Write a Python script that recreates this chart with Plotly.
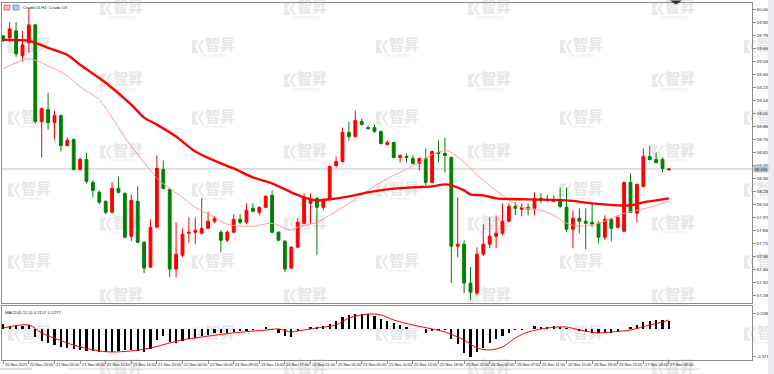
import plotly.graph_objects as go

# ---------------- data ----------------
bars = list(range(105))

opens = [59.79, 59.77, 59.84, 59.59, 59.72, 59.90, 58.93, 59.05, 58.92, 58.99,
         58.69, 58.75, 58.45, 58.55, 58.32, 58.22, 58.13, 58.02, 58.26, 58.21,
         57.78, 58.13, 57.72, 57.47, 57.87, 58.45, 58.25, 57.45, 57.59, 57.81,
         57.82, 57.81, 57.86, 57.93, 57.82, 57.74, 57.82, 57.95, 57.92, 58.06,
         58.02, 58.07, 58.19, 57.82, 57.73, 57.46, 57.67, 57.91, 58.11, 58.16,
         58.07, 58.15, 58.49, 58.53, 58.82, 58.78, 58.93, 58.87, 58.87, 58.83,
         58.70, 58.72, 58.57, 58.58, 58.56, 58.51, 58.56, 58.32, 58.62, 58.61,
         58.57, 57.68, 57.70, 57.31, 57.21, 57.60, 57.70, 57.78, 57.81, 57.93,
         58.08, 58.05, 58.07, 58.06, 58.16, 58.15, 58.15, 58.13, 58.07, 57.85,
         57.96, 57.93, 57.92, 57.91, 57.77, 57.95, 57.87, 57.83, 58.32, 58.01,
         58.28, 58.58, 58.55, 58.55, 58.445]
highs = [59.80, 59.93, 59.93, 59.84, 60.07, 59.91, 59.07, 59.22, 59.04, 59.00,
         58.77, 58.76, 58.57, 58.62, 58.34, 58.24, 58.14, 58.32, 58.38, 58.22,
         58.20, 58.28, 57.73, 57.95, 58.59, 58.54, 58.26, 57.92, 57.86, 57.97,
         57.97, 58.16, 58.03, 57.98, 57.84, 57.84, 58.00, 58.00, 58.11, 58.11,
         58.08, 58.19, 58.24, 57.83, 57.74, 57.68, 57.96, 58.21, 58.21, 58.17,
         58.16, 58.49, 58.58, 58.87, 58.93, 59.04, 58.96, 58.89, 58.90, 58.84,
         58.74, 58.73, 58.60, 58.61, 58.59, 58.57, 58.66, 58.64, 58.74, 58.77,
         58.58, 58.17, 57.74, 57.47, 57.67, 57.90, 57.97, 57.99, 58.11, 58.11,
         58.12, 58.11, 58.11, 58.22, 58.21, 58.19, 58.19, 58.27, 58.27, 58.04,
         58.06, 58.06, 58.11, 57.93, 57.99, 57.96, 57.99, 58.33, 58.41, 58.31,
         58.66, 58.69, 58.62, 58.57, 58.46]
lows = [59.73, 59.73, 59.58, 59.53, 59.62, 58.91, 58.57, 58.85, 58.75, 58.63,
        58.68, 58.44, 58.44, 58.31, 58.17, 58.10, 58.00, 58.01, 58.21, 57.76,
        57.73, 57.71, 57.41, 57.46, 57.86, 58.25, 57.37, 57.37, 57.57, 57.71,
        57.70, 57.80, 57.85, 57.91, 57.62, 57.72, 57.81, 57.90, 57.90, 58.02,
        57.99, 58.06, 57.81, 57.73, 57.42, 57.45, 57.66, 57.90, 57.91, 57.59,
        58.04, 58.14, 58.47, 58.52, 58.74, 58.77, 58.89, 58.85, 58.82, 58.70,
        58.69, 58.56, 58.52, 58.52, 58.50, 58.44, 58.29, 58.31, 58.52, 58.42,
        57.31, 57.57, 57.21, 57.14, 57.19, 57.58, 57.66, 57.66, 57.79, 57.92,
        57.99, 57.98, 57.99, 57.99, 58.11, 58.12, 58.12, 58.06, 57.82, 57.66,
        57.81, 57.65, 57.87, 57.71, 57.74, 57.73, 57.86, 57.82, 58.01, 57.92,
        58.27, 58.54, 58.51, 58.42, 58.44]
closes = [59.74, 59.86, 59.61, 59.70, 59.90, 58.93, 59.06, 58.92, 58.99, 58.69,
          58.74, 58.45, 58.55, 58.33, 58.24, 58.12, 58.02, 58.26, 58.22, 57.77,
          58.14, 57.72, 57.46, 57.87, 58.46, 58.26, 57.45, 57.60, 57.80, 57.82,
          57.84, 57.86, 57.93, 57.96, 57.74, 57.82, 57.95, 57.92, 58.04, 58.03,
          58.07, 58.18, 57.82, 57.74, 57.45, 57.67, 57.92, 58.16, 58.14, 58.07,
          58.14, 58.48, 58.53, 58.82, 58.78, 58.94, 58.90, 58.86, 58.83, 58.71,
          58.72, 58.57, 58.59, 58.57, 58.51, 58.56, 58.32, 58.63, 58.61, 58.59,
          57.68, 57.70, 57.31, 57.22, 57.60, 57.70, 57.78, 57.81, 57.93, 58.08,
          58.06, 58.07, 58.05, 58.16, 58.14, 58.14, 58.13, 58.08, 57.85, 57.96,
          57.93, 57.91, 57.90, 57.77, 57.95, 57.86, 57.97, 58.32, 58.02, 58.30,
          58.58, 58.55, 58.52, 58.46, 58.455]

# slow moving average (thick red) - read at selected bars
slow_idx = [0, 4, 7, 10, 12, 16, 20, 22, 24, 27, 30, 34, 36, 39, 42, 45, 47, 49, 51, 54,
            57, 60, 64, 67, 69, 70, 72, 73, 75, 77, 82, 88, 92, 96, 98, 100, 102, 104]
slow_val = [59.75, 59.74, 59.67, 59.60, 59.50, 59.32, 59.10, 58.97, 58.90, 58.78,
            58.63, 58.51, 58.46, 58.37, 58.31, 58.22, 58.17, 58.14, 58.15, 58.18,
            58.22, 58.25, 58.27, 58.28, 58.30, 58.29, 58.24, 58.20, 58.19, 58.16,
            58.15, 58.14, 58.11, 58.09, 58.09, 58.12, 58.14, 58.16]

# fast moving average (thin pink)
fast_idx = [0, 4, 7, 10, 12, 15, 17, 19, 21, 23, 24, 26, 28, 30, 33, 35, 39, 42, 45, 46,
            49, 51, 54, 57, 60, 62, 65, 67, 69, 70, 72, 75, 78, 81, 84, 86, 88, 90, 93, 95,
            97, 99, 101, 104]
fast_val = [59.46, 59.56, 59.49, 59.39, 59.28, 59.15, 58.97, 58.77, 58.60, 58.44,
            58.36, 58.26, 58.17, 58.07, 57.97, 57.90, 57.88, 57.91, 57.84, 57.87,
            57.92, 57.99, 58.11, 58.24, 58.36, 58.42, 58.52, 58.60, 58.64, 58.62,
            58.52, 58.34, 58.19, 58.07, 58.04, 57.99, 57.91, 57.88, 57.91, 57.96,
            58.01, 58.04, 58.07, 58.13]

# MACD histogram
macd_hist = [0.07, 0.05, 0.045, 0.05, 0.065, -0.108, -0.153, -0.18, -0.21, -0.234,
             -0.256, -0.27, -0.279, -0.288, -0.29, -0.30, -0.31, -0.30, -0.288, -0.279,
             -0.279, -0.29, -0.31, -0.27, -0.144, -0.09, -0.167, -0.18, -0.158, -0.135,
             -0.12, -0.09, -0.068, -0.054, -0.054, -0.045, -0.036, -0.018, -0.018, -0.009,
             0.008, 0.036, -0.008, -0.054, -0.085, -0.10, -0.018, 0.008, 0.027, 0.036,
             0.045, 0.072, 0.117, 0.162, 0.194, 0.21, 0.2098, 0.207, 0.18, 0.14,
             0.115, 0.081, 0.054, 0.027, 0.01, 0.008, -0.045, -0.02, -0.008, -0.008,
             -0.135, -0.20, -0.315, -0.3713, -0.306, -0.25, -0.18, -0.126, -0.09, -0.045,
             -0.008, -0.008, 0.008, 0.045, 0.036, 0.036, 0.045, 0.036, 0.022, 0.009,
             -0.022, -0.036, -0.045, -0.054, -0.045, -0.045, -0.036, 0.009, 0.036, 0.054,
             0.099, 0.117, 0.126, 0.126, 0.1157]

# MACD signal line
sig_idx = [0, 4, 6, 10, 12, 15, 17, 20, 23, 26, 28, 31, 36, 41, 43, 45, 46, 49, 52, 54,
           57, 59, 61, 64, 67, 69, 72, 74, 76, 78, 80, 82, 85, 88, 90, 93, 95, 98, 101, 103, 104]
sig_val = [0.020, 0.061, -0.047, -0.182, -0.236, -0.290, -0.304, -0.290, -0.250, -0.182,
           -0.142, -0.101, -0.047, -0.007, 0.007, -0.034, -0.020, 0.020, 0.061, 0.155,
           0.209, 0.196, 0.128, 0.061, 0.007, -0.034, -0.142, -0.250, -0.277, -0.236,
           -0.115, -0.034, 0.020, 0.034, -0.007, -0.047, -0.034, -0.007, 0.061, 0.101, 0.1277]

price_ticks = [60.050, 59.920, 59.790, 59.660, 59.530, 59.400, 59.270, 59.140, 59.010,
               58.880, 58.750, 58.620, 58.490, 58.360, 58.230, 58.100, 57.970, 57.840,
               57.710, 57.580, 57.450, 57.320, 57.190]
macd_ticks = [0.2098, -0.3713]

time_labels = ["20 Nov 2025", "20 Nov 23:00", "21 Nov 03:00", "21 Nov 08:00", "21 Nov 12:00",
               "21 Nov 16:00", "21 Nov 20:00", "22 Nov 00:00", "22 Nov 04:00", "24 Nov 09:00",
               "24 Nov 13:00", "24 Nov 17:00", "24 Nov 21:00", "25 Nov 01:00", "25 Nov 05:00",
               "25 Nov 10:00", "25 Nov 14:00", "25 Nov 18:00", "25 Nov 22:00", "26 Nov 02:00",
               "26 Nov 07:00", "26 Nov 11:00", "26 Nov 15:00", "26 Nov 19:00", "26 Nov 23:00",
               "27 Nov 03:00", "27 Nov 08:00"]
label_bars = bars[::4]

title_text = "CrudeOil,H1: Crude Oil"
macd_text = "MACD(6,12,5) 0.1157 0.1277"

# ---------------- layout helpers ----------------
W, H = 774, 374
def px(x):
    return x / W
def py(y):
    return 1 - y / H

FONT = "Liberation Sans, Arial, sans-serif"
UP, DOWN = "#ff0000", "#008000"

fig = go.Figure()

# ---- watermark layer (pixel-space subplot drawn first, beneath everything) ----
wm_x, wm_y, sub_x, sub_y, icon_x, icon_y = [], [], [], [], [], []
for k in range(9):
    cx = 29 + 92 * k
    rows = [46.5, 118, 190, 262, 334] if k % 2 == 0 else [8.5, 80.5, 152, 224, 296, 368]
    for cy in rows:
        wm_x.append(cx + 7); wm_y.append(cy)
        sub_x.append(cx + 1); sub_y.append(cy + 9.5)
        x0, y0 = cx - 21, cy - 6.5
        icon_x += [x0, x0 + 6.5, x0 + 3, x0 + 6.5, x0, x0, None,
                   x0 + 5.5, x0 + 9.5, x0 + 12, x0 + 8, x0 + 12, x0 + 9.5, x0 + 5.5, None]
        icon_y += [y0, y0, y0 + 6.5, y0 + 13, y0 + 13, y0, None,
                   y0 + 6.5, y0, y0, y0 + 6.5, y0 + 13, y0 + 13, y0 + 6.5, None]

fig.add_trace(go.Scatter(x=icon_x, y=icon_y, mode="lines", fill="toself",
                         fillcolor="#e8e8e8", line=dict(width=0), hoverinfo="skip",
                         showlegend=False, xaxis="x", yaxis="y"))
fig.add_trace(go.Scatter(x=wm_x, y=wm_y, mode="text", text=["智昇"] * len(wm_x),
                         textfont=dict(family="Noto Sans CJK SC", size=15, color="#e6e6e6", weight=700),
                         hoverinfo="skip", showlegend=False, xaxis="x", yaxis="y", cliponaxis=False))
fig.add_trace(go.Scatter(x=sub_x, y=sub_y, mode="text", text=["Z H I S H E N G"] * len(sub_x),
                         textfont=dict(family=FONT, size=3.6, color="#e6e6e6"),
                         hoverinfo="skip", showlegend=False, xaxis="x", yaxis="y", cliponaxis=False))

# ---- main price panel ----
fig.add_trace(go.Candlestick(x=bars, open=opens, high=highs, low=lows, close=closes,
                             increasing=dict(line=dict(color=UP, width=1), fillcolor=UP),
                             decreasing=dict(line=dict(color=DOWN, width=1), fillcolor=DOWN),
                             whiskerwidth=0, showlegend=False, hoverinfo="skip",
                             xaxis="x2", yaxis="y2"))
fig.add_trace(go.Scatter(x=fast_idx, y=fast_val, mode="lines",
                         line=dict(color="#ff9a9a", width=1, shape="spline", smoothing=0.8),
                         showlegend=False, hoverinfo="skip", xaxis="x2", yaxis="y2"))
fig.add_trace(go.Scatter(x=slow_idx, y=slow_val, mode="lines",
                         line=dict(color="#ff0000", width=2.4, shape="spline", smoothing=0.8),
                         showlegend=False, hoverinfo="skip", xaxis="x2", yaxis="y2"))

# ---- MACD panel ----
fig.add_trace(go.Bar(x=bars, y=macd_hist, marker=dict(color="#000000", line=dict(width=0)),
                     width=0.34, showlegend=False, hoverinfo="skip", xaxis="x3", yaxis="y3"))
fig.add_trace(go.Scatter(x=sig_idx, y=sig_val, mode="lines",
                         line=dict(color="#ff0000", width=1, shape="spline", smoothing=0.8),
                         showlegend=False, hoverinfo="skip", xaxis="x3", yaxis="y3"))

XDOM = [px(2), px(752)]
XRANGE = [-0.2, 116.98]
frame = dict(showline=True, mirror=True, linecolor="#8c8c8c", linewidth=1,
             showgrid=False, zeroline=False)
tickfont = dict(family=FONT, size=4.2, color="#222222")

fig.update_layout(
    width=W, height=H,
    margin=dict(l=0, r=0, t=0, b=0),
    paper_bgcolor="#ffffff", plot_bgcolor="rgba(0,0,0,0)",
    showlegend=False, boxgap=0.37, bargap=0,
    xaxis=dict(domain=[0, 1], range=[0, W], visible=False, fixedrange=True),
    yaxis=dict(domain=[0, 1], range=[H, 0], visible=False, fixedrange=True),
    xaxis2=dict(domain=XDOM, range=XRANGE, anchor="y2", showticklabels=False,
                rangeslider=dict(visible=False), **frame),
    yaxis2=dict(domain=[py(303), py(3)], range=[57.110, 60.120], anchor="x2", side="right",
                tickvals=price_ticks, ticktext=[f"{v:.3f}" for v in price_ticks],
                ticks="outside", ticklen=3, tickcolor="#8c8c8c", tickfont=tickfont, **frame),
    xaxis3=dict(domain=XDOM, range=XRANGE, anchor="y3", tickvals=label_bars,
                ticks="outside", ticklen=3, tickcolor="#8c8c8c", showticklabels=False, **frame),
    yaxis3=dict(domain=[py(360), py(306)], range=[-0.412, 0.317], anchor="x3", side="right",
                tickvals=macd_ticks, ticktext=[f"{v:.4f}" for v in macd_ticks],
                ticks="outside", ticklen=3, tickcolor="#8c8c8c", tickfont=tickfont, **frame),
)

# current price line and label
last = closes[-1]
shapes = [
    dict(type="line", xref="x2 domain", x0=0, x1=1, yref="y2", y0=last, y1=last,
         line=dict(color="#c4c4c4", width=1), layer="below"),
    dict(type="rect", xref="paper", yref="paper", x0=px(768), x1=1, y0=0, y1=1,
         fillcolor="#e9ebee", line=dict(width=0)),
    dict(type="path", xref="paper", yref="paper",
         path=f"M {px(670)} {py(0.5)} L {px(682)} {py(0.5)} L {px(676)} {py(4.5)} Z",
         fillcolor="#303030", line=dict(width=0)),
    dict(type="line", xref="paper", yref="paper", x0=0, x1=px(32), y0=py(369), y1=py(369),
         line=dict(color="#bdbdbd", width=1)),
    dict(type="line", xref="paper", yref="paper", x0=px(68), x1=px(700), y0=py(369), y1=py(369),
         line=dict(color="#d6d6d6", width=1)),
    dict(type="rect", xref="paper", yref="paper", x0=px(4), x1=px(10), y0=py(10), y1=py(5),
         fillcolor="#f2b8b8", line=dict(color="#c04040", width=0.6)),
    dict(type="rect", xref="paper", yref="paper", x0=px(13), x1=px(19), y0=py(10), y1=py(5),
         fillcolor="#b8c8f0", line=dict(color="#4060c0", width=0.6)),
]
fig.update_layout(shapes=shapes)

annotations = [
    dict(xref="paper", yref="y2", x=px(753), y=last, xanchor="left", yanchor="middle",
         text=f"{last:.3f}", showarrow=False, bgcolor="#b7c2d4", borderpad=0.5,
         font=dict(family=FONT, size=4.2, color="#1a1a1a")),
    dict(xref="paper", yref="paper", x=px(21), y=py(8), xanchor="left", yanchor="middle",
         text=title_text, showarrow=False, font=dict(family=FONT, size=4.3, color="#1a1a1a")),
    dict(xref="paper", yref="paper", x=px(3), y=py(312), xanchor="left", yanchor="middle",
         text=macd_text, showarrow=False, font=dict(family=FONT, size=4.3, color="#1a1a1a")),
]
for b, lab in zip(label_bars, time_labels):
    annotations.append(dict(xref="x3", yref="paper", x=b, y=py(364.5), xanchor="left",
                            yanchor="middle", xshift=-0.5, text=lab, showarrow=False,
                            font=dict(family=FONT, size=3.9, color="#222222")))
fig.update_layout(annotations=annotations)

fig.write_html("out.html",
               config={"displayModeBar": False, "staticPlot": True},
               post_script="document.body.style.margin='0';document.body.style.overflow='hidden';")
